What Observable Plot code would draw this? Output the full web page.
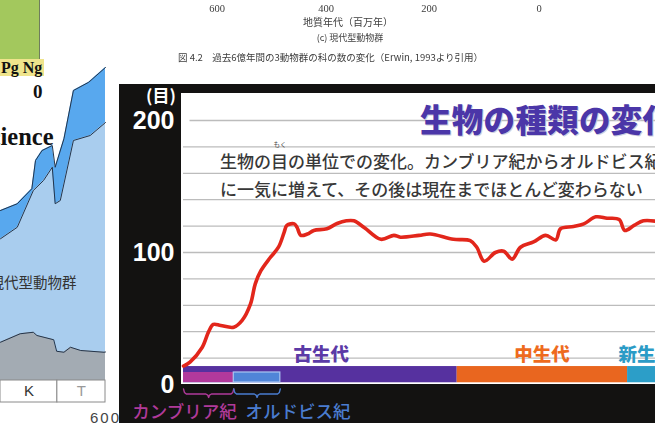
<!DOCTYPE html>
<html><head><meta charset="utf-8">
<script src="https://cdn.jsdelivr.net/npm/d3@7"></script>
<script src="https://cdn.jsdelivr.net/npm/@observablehq/plot@0.6"></script>
<style>
html,body{margin:0;padding:0;background:#fff;}
#stage{position:relative;width:655px;height:433px;overflow:hidden;background:#fff;font-family:"Noto Sans CJK JP",sans-serif;}
.abs{position:absolute;white-space:nowrap;line-height:1;}
.c{transform:translate(-50%,-50%);}
.v{transform:translateY(-50%);}
.scan{color:#3c3c3c;filter:blur(0.5px);}
#left,#main{position:absolute;left:0;top:0;}
#main svg [aria-label^="y-axis"] text{fill:#fff;font-size:25px;font-weight:700;font-family:"Liberation Sans",Arial,sans-serif;}
</style></head><body>
<div id="stage">
  <!-- scanned caption strip -->
  <div class="abs c scan" style="left:217px;top:8px;font:10.5px 'Liberation Serif',serif;">600</div>
  <div class="abs c scan" style="left:326px;top:8px;font:10.5px 'Liberation Serif',serif;">400</div>
  <div class="abs c scan" style="left:429px;top:8px;font:10.5px 'Liberation Serif',serif;">200</div>
  <div class="abs c scan" style="left:539px;top:8px;font:10.5px 'Liberation Serif',serif;">0</div>
  <div class="abs c scan" style="left:348px;top:22px;font-size:10px;">地質年代（百万年）</div>
  <div class="abs c scan" style="left:350px;top:37px;font-size:9px;">(c) 現代型動物群</div>
  <div class="abs v scan" style="left:178px;top:58px;font-size:9.5px;">図 4.2　過去6億年間の3動物群の科の数の変化（Erwin, 1993より引用）</div>

  <!-- left collage piece -->
  <div class="abs" style="left:0;top:0;width:39px;height:59px;background:#a3c85d;border-right:1px solid #6f7d5c;"></div>
  <div class="abs" style="left:0;top:59px;width:44px;height:17px;background:#efe48c;font:bold 16px/17px 'Liberation Serif',serif;color:#111;padding-left:1px;box-sizing:border-box;">Pg Ng</div>
  <div class="abs" style="left:33px;top:82px;font:bold 19px/1 'Liberation Serif',serif;color:#111;">0</div>
  <div id="left"></div>
  <div class="abs" style="left:-24px;top:124.5px;font:bold 24.5px/1 'Liberation Serif',serif;color:#111;">Science</div>
  <div class="abs v" style="left:-10.5px;top:282px;font-size:14.5px;color:#333;">現代型動物群</div>
  <div class="abs v" style="left:90px;top:417px;font:15px/1 'Liberation Sans',sans-serif;color:#444;letter-spacing:2px;">600</div>

  <!-- main panel -->
  <div class="abs" style="left:119px;top:84px;width:536px;height:339px;background:#131211;"></div>
  <div class="abs" style="left:181px;top:93px;width:474px;height:291px;background:#fff;"></div>
  <div id="main"></div>
  <div class="abs c" style="left:161px;top:94px;font-size:17px;font-weight:700;color:#fff;">(目)</div>
  <div class="abs v" style="left:420px;top:119px;font-size:31.5px;font-weight:900;color:#4b36a8;letter-spacing:0.3px;text-shadow:1px 1px 0 #cfcfe0;">生物の種類の変化</div>
  <div class="abs c" style="left:280px;top:144px;font-size:6.5px;color:#444;">もく</div>
  <div class="abs v" style="left:220px;top:160px;font-size:17px;font-weight:500;color:#383838;">生物の目の単位での変化。カンブリア紀からオルドビス紀</div>
  <div class="abs v" style="left:220px;top:188px;font-size:17px;font-weight:500;color:#383838;">に一気に増えて、その後は現在までほとんど変わらない</div>
</div>
<script>
// ---- main chart data: number of orders (目) through time (Ma) ----
const orderAges   = [542,535,522,515,510,502,488,479,470,465,459,449,440,434,431,423,420,416,409,402,388,377,367,359,348,330,316,309,289,277,252,234,227,219,207,198,189,180,166,153,142,137,123,112,99,87,74,68,58,48,35];
const orderCounts = [14,17,28,40,45.5,44.7,43.4,48.5,61,76,86,96,104,115,120.5,121.7,119,113,114,116.7,118,122,124,124,119,110,113,111.6,113,114,110,109,104,93.4,100,101,95,104,108,113,109.6,118,119.7,121.7,127,126,125,116.7,120.5,124,123.7];
const yTickValues = [0,100,200];
const gridValues  = [20,40,60,80,100,120,140,160,180,200];

const eraNames     = ["古生代","中生代","新生代"];
const eraStart     = [542,248,65];
const eraEnd       = [248,65,0];
const eraLabelAge  = [394,157,45];

const periodNames    = ["カンブリア紀","オルドビス紀"];
const periodStart    = [542,488];
const periodEnd      = [488,438];
const periodLabelAge = [541,419];

// ---- left collage piece data (families, Ma) ----
const leftTopAges  = [144,121,101,96,87,73,69,57,44,23,2,0];
const leftTopVals  = [680,707,767,880,920,940,853,967,1160,1193,1247,1252];
const leftMidAges  = [144,121,99,85,73,69,62,44,21,2,0];
const leftMidVals  = [567,613,760,800,853,707,720,960,980,1027,1032];
const leftGrayAges = [144,117,99,94,71,67,57,48,34,2,0];
const leftGrayVals = [153,187,193,180,163,117,113,133,120,113,114];
const ktNames = ["K","T"];
const ktFrom  = [144,66];
const ktTo    = [66,0];

// ---- styles ----
const eraFill  = {"古生代":"#56319f","中生代":"#e9661f","新生代":"#2c9ec8"};
const eraText  = {"古生代":"#5b3aa6","中生代":"#ee6b1e","新生代":"#2b9bc6"};
const perFill  = {"カンブリア紀":"#b2399c","オルドビス紀":"#5085d8"};
const perText  = {"カンブリア紀":"#b03a9a","オルドビス紀":"#4a7ccf"};

const orders  = orderAges.map((a,i)=>({age:a, n:orderCounts[i]}));
const eras    = eraNames.map((name,i)=>({name, start:eraStart[i], end:eraEnd[i], labelAge:eraLabelAge[i]}));
const periods = periodNames.map((name,i)=>({name, start:periodStart[i], end:periodEnd[i], labelAge:periodLabelAge[i]}));
const braces  = periods.flatMap(p=>{
  const m=(p.start+p.end)/2;
  return [[p.start,-3.3],[p.start-1,-6],[p.start-3,-7.2],[m+3,-7.2],[m+1,-8],[m,-9.8],[m-1,-8],[m-3,-7.2],[p.end+3,-7.2],[p.end+1,-6],[p.end,-3.3]]
    .map(([age,y])=>({name:p.name, age, y}));
});

const main = Plot.plot({
  width:655, height:433,
  marginLeft:183, marginRight:0, marginTop:120, marginBottom:49,
  style:{background:"transparent", overflow:"visible"},
  x:{domain:[542,35], axis:null},
  y:{domain:[0,200], ticks:yTickValues, tickSize:0, tickPadding:9, label:null},
  marks:[
    Plot.ruleY(gridValues, {stroke:"#bcbcbc", strokeWidth:1.3, x1: d=>d===200?535:542, x2:35}),
    Plot.rect(eras, {x1:"start", x2:"end", y1:1.3, y2:13.6, fill:d=>eraFill[d.name]}),
    Plot.rect(periods, {x1:"start", x2:"end", y1:1.5, y2:9.1, fill:d=>perFill[d.name],
      stroke:d=>d.name==="オルドビス紀"?"#aac6f2":"none", strokeWidth:1.2}),
    Plot.line(orders, {x:"age", y:"n", stroke:"#e2261b", strokeWidth:3.6, curve:"catmull-rom", strokeLinejoin:"round", strokeLinecap:"round"}),
    Plot.text(eras, {x:"labelAge", y:22, text:"name", fill:d=>eraText[d.name], fontSize:18.5, fontWeight:900, fontFamily:"Noto Sans CJK JP"}),
    Plot.line(braces, {x:"age", y:"y", z:"name", stroke:d=>perText[d.name], strokeWidth:1.4}),
    Plot.text(periods, {x:"labelAge", y:-21, text:"name", fill:d=>perText[d.name], fontSize:17.5, fontWeight:500, fontFamily:"Noto Sans CJK JP"})
  ]
});
document.getElementById("main").appendChild(main);

const topData  = leftTopAges.map((a,i)=>({age:a, v:leftTopVals[i]}));
const midData  = leftMidAges.map((a,i)=>({age:a, v:leftMidVals[i]}));
const grayData = leftGrayAges.map((a,i)=>({age:a, v:leftGrayVals[i]}));
const kt = ktNames.map((name,i)=>({name, from:ktFrom[i], to:ktTo[i]}));

const left = Plot.plot({
  width:106, height:433,
  marginLeft:0, marginRight:1, marginTop:0, marginBottom:31,
  style:{background:"transparent"},
  x:{domain:[144,0], axis:null},
  y:{domain:[-88,1520], axis:null},
  marks:[
    Plot.areaY(topData,  {x:"age", y:"v", fill:"#58a8ee"}),
    Plot.areaY(midData,  {x:"age", y:"v", fill:"#a9cdee"}),
    Plot.areaY(grayData, {x:"age", y:"v", fill:"#a3abb3"}),
    Plot.line(topData,  {x:"age", y:"v", stroke:"#23344a", strokeWidth:1}),
    Plot.line(midData,  {x:"age", y:"v", stroke:"#23344a", strokeWidth:1}),
    Plot.line(grayData, {x:"age", y:"v", stroke:"#23344a", strokeWidth:1}),
    Plot.rect(kt, {x1:"from", x2:"to", y1:-88, y2:0, fill:"#fff", stroke:"#8a8a8a"}),
    Plot.text(kt, {x:d=>(d.from+d.to)/2, y:-44, text:"name", fontSize:15, fontFamily:"Liberation Sans", fill:d=>d.name==="K"?"#333":"#999"})
  ]
});
document.getElementById("left").appendChild(left);
</script>
</body></html>
